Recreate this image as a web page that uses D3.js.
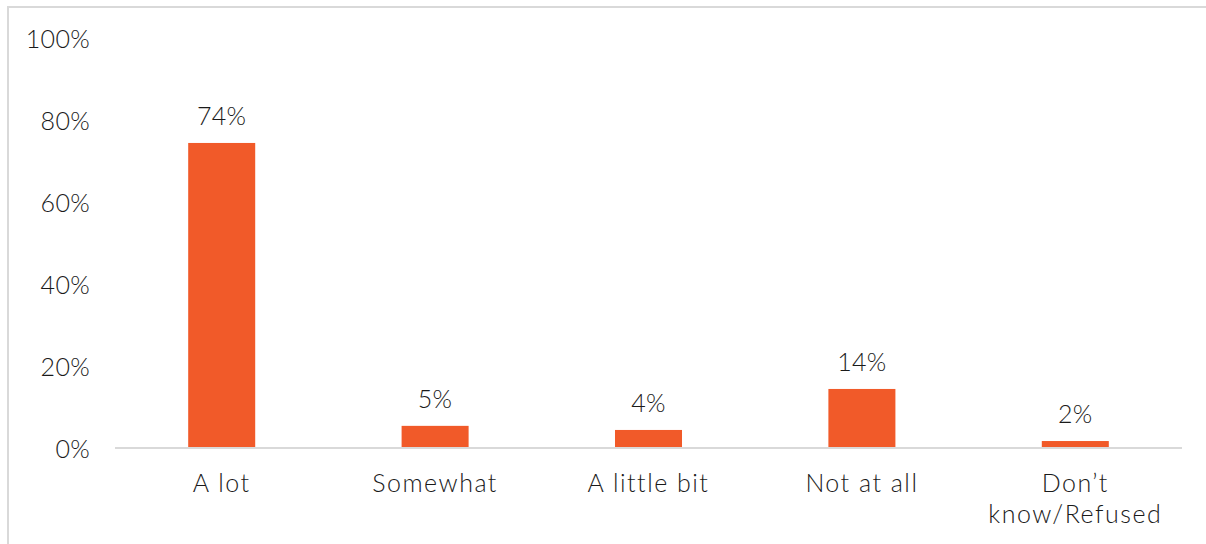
<!DOCTYPE html>
<html>
<head>
<meta charset="utf-8">
<script src="https://cdn.jsdelivr.net/npm/d3@7"></script>
<style>
  body { margin: 0; background: #fff; }
  svg text { font-family: "Century Gothic", "Lato", sans-serif; fill: #1a1a1a; font-weight: 300; }
</style>
</head>
<body>
<svg id="chart" width="1206" height="544"></svg>
<script>
// answers and their shares (percent)
const categories = ["A lot", "Somewhat", "A little bit", "Not at all", "Don\u2019t know/Refused"];
const values = [74.4, 5.4, 4.4, 14.4, 1.7];
const yTicks = [0, 20, 40, 60, 80, 100];

const svg = d3.select("#chart");
const width = 1206, height = 544;
const margin = {left: 115, right: 24, top: 38, bottom: 96};

// chart frame
svg.append("rect")
    .attr("x", 8).attr("y", 7)
    .attr("width", width + 10).attr("height", height + 10)
    .attr("fill", "none")
    .attr("stroke", "#d9d9d9")
    .attr("stroke-width", 2);

const x = d3.scaleBand()
    .domain(categories)
    .range([margin.left, width - margin.right])
    .paddingInner(0.686)
    .paddingOuter(0.343);

const y = d3.scaleLinear()
    .domain([0, 100])
    .range([height - margin.bottom, margin.top]);

// y labels, no axis line
const yAxis = svg.append("g")
    .attr("transform", `translate(${margin.left - 25},0)`)
    .call(d3.axisLeft(y).tickValues(yTicks).tickSize(0).tickFormat(d => d + "%"));
yAxis.select(".domain").remove();
yAxis.selectAll("text")
    .attr("x", 0)
    .attr("dy", "0.36em")
    .style("font-size", "25px")
    .style("letter-spacing", "0.3px")
    .style("font-family", null);

svg.append("g").selectAll("rect")
    .data(values)
    .enter()
    .append("rect")
    .attr("x", (d, i) => x(categories[i]))
    .attr("y", d => y(d))
    .attr("width", x.bandwidth())
    .attr("height", d => y(0) - y(d))
    .attr("fill", "#f15a29");

// baseline
svg.append("line")
    .attr("x1", margin.left).attr("x2", width - margin.right)
    .attr("y1", y(0)).attr("y2", y(0))
    .attr("stroke", "#d9d9d9")
    .attr("stroke-width", 2);

svg.append("g").selectAll("text")
    .data(values)
    .enter()
    .append("text")
    .attr("x", (d, i) => x(categories[i]) + x.bandwidth() / 2)
    .attr("y", d => y(d) - 18)
    .attr("text-anchor", "middle")
    .style("font-size", "25px")
    .style("letter-spacing", "0.3px")
    .text(d => Math.round(d) + "%");

// category labels, wrapped on the slash
const xl = svg.append("g").selectAll("text")
    .data(categories)
    .enter()
    .append("text")
    .attr("x", d => x(d) + x.bandwidth() / 2)
    .attr("y", y(0) + 44)
    .attr("text-anchor", "middle")
    .style("font-size", "25px")
    .style("letter-spacing", "1.5px");
xl.each(function (d) {
    let parts = d.indexOf("/") > 0 ? [d.split(" ")[0], d.split(" ").slice(1).join(" ")] : [d];
    let t = d3.select(this);
    parts.forEach((p, i) => {
        t.append("tspan")
            .attr("x", t.attr("x"))
            .attr("dy", i === 0 ? 0 : 31)
            .text(p);
    });
});
</script>
</body>
</html>
